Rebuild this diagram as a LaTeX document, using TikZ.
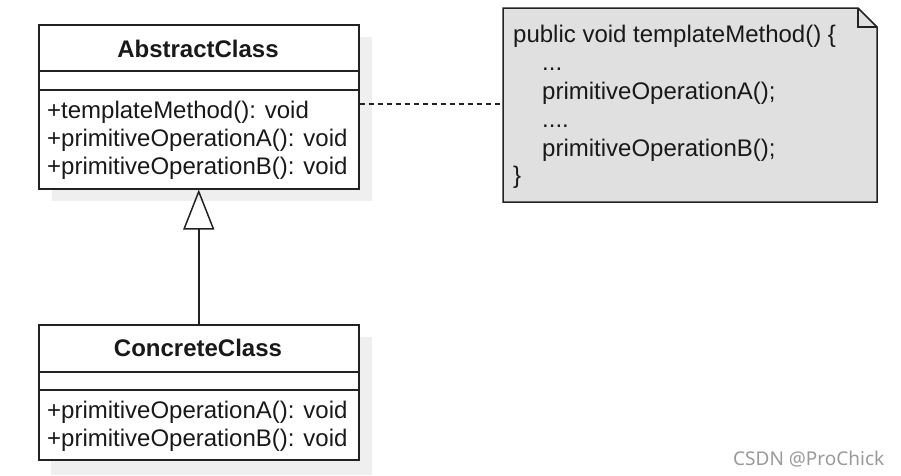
\documentclass[tikz,border=0pt]{standalone}
\usepackage{fontspec}
\setmainfont{Liberation Sans}
\newfontfamily\wmfont{Noto Sans}
\usetikzlibrary{arrows.meta}
\definecolor{edge}{HTML}{222222}
\definecolor{shade}{HTML}{EFEFEF}
\definecolor{notefill}{HTML}{E0E0E0}
\definecolor{wm}{HTML}{9A9A9A}
\begin{document}
\begin{tikzpicture}[x=1pt,y=-1pt,
  classbox/.style={draw=edge,line width=1.5pt,fill=white,rectangle,inner sep=0pt,minimum width=320pt},
  shadowbox/.style={fill=shade,draw=none},
  sep/.style={draw=edge,line width=1.5pt},
  title/.style={font=\fontsize{24}{28}\selectfont\bfseries,text=black!90,inner sep=0pt,anchor=base},
  member/.style={font=\fontsize{24}{28}\selectfont,text=black!90,inner sep=0pt,anchor=base west},
  notebox/.style={draw=edge,line width=1.5pt,fill=notefill},
  dep/.style={draw=edge,line width=1.3pt,dash pattern=on 5pt off 4pt},
  gen/.style={draw=edge,line width=1.5pt,-{Triangle[open,length=40pt,width=31pt,line width=1.5pt]}}
]
\useasboundingbox (0,0) rectangle (901,475);
% shadows
\fill[shadowbox] (52,37) rectangle (372,201);
\fill[shadowbox] (51,337) rectangle (372,475);
% AbstractClass
\node[classbox,minimum height=164pt,anchor=north west] (abs) at (38,24) {};
\draw[sep] (38,71) -- (358,71);
\draw[sep] (38,90) -- (358,90);
\node[title] (absname) at (198,57) {AbstractClass};
\node[member] (absm1) at (47,118) {+templateMethod(): void};
\node[member] (absm2) at (47,146) {+primitiveOperationA(): void};
\node[member] (absm3) at (47,174) {+primitiveOperationB(): void};
% ConcreteClass
\node[classbox,minimum height=135pt,anchor=north west] (con) at (38,324) {};
\draw[sep] (38,372) -- (358,372);
\draw[sep] (38,390) -- (358,390);
\node[title] (conname) at (198,356) {ConcreteClass};
\node[member] (conm1) at (47,418) {+primitiveOperationA(): void};
\node[member] (conm2) at (47,446) {+primitiveOperationB(): void};
% Note
\coordinate (nNW) at (503,8);
\coordinate (nSE) at (877,202);
\draw[notebox] (503,8) -- (858,8) -- (877,27) -- (877,202) -- (503,202) -- cycle;
\draw[draw=edge,line width=1.5pt,line join=miter] (858,8) -- (858,27) -- (877,27);
\node[member] (n1) at (513,42) {public void templateMethod() \{};
\node[member] (n2) at (542,70) {...};
\node[member] (n3) at (542,99) {primitiveOperationA();};
\node[member] (n4) at (542,127) {....};
\node[member] (n5) at (542,156) {primitiveOperationB();};
\node[member] (n6) at (513,183) {\}};
\coordinate (notein) at (503,104);
% connectors
\draw[dep] (abs.east |- notein) -- (notein);
\draw[gen] (con.north) -- (abs.south);
% watermark
\node[font=\wmfont\fontsize{19}{22}\selectfont,text=wm,anchor=base west,inner sep=0pt] (wmark) at (733,465) {CSDN @ProChick};
\end{tikzpicture}
\end{document}
